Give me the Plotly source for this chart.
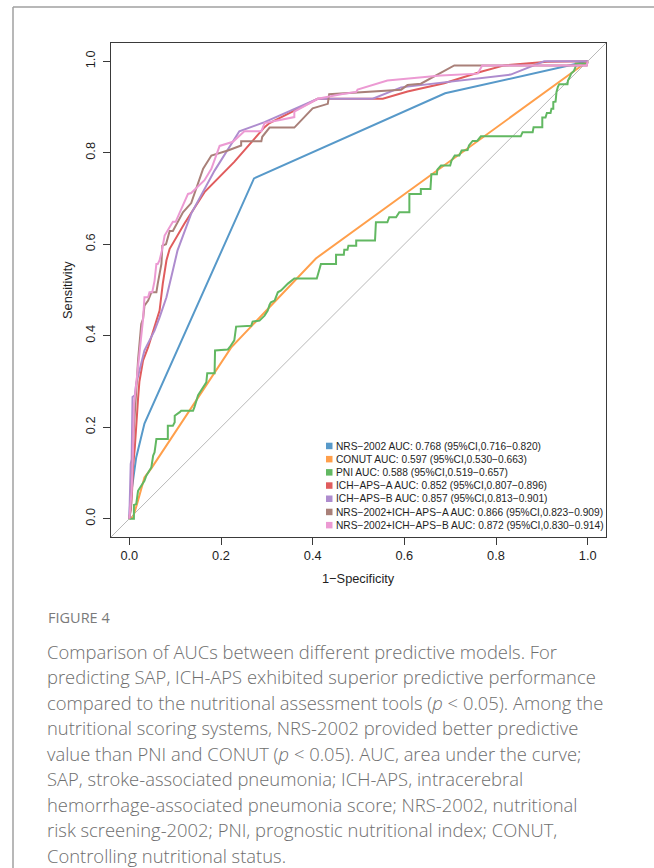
import plotly.graph_objects as go

# ---------------- data ----------------
names = ["NRS-2002", "CONUT", "PNI", "ICH-APS-A", "ICH-APS-B",
         "NRS-2002+ICH-APS-A", "NRS-2002+ICH-APS-B"]
auc = ["0.768", "0.597", "0.588", "0.852", "0.857", "0.866", "0.872"]
ci_lo = ["0.716", "0.530", "0.519", "0.807", "0.813", "0.823", "0.830"]
ci_hi = ["0.820", "0.663", "0.657", "0.896", "0.901", "0.909", "0.914"]
colors = ["#5799c9", "#ff9f4b", "#62b862", "#e05c5d", "#ae8cce",
          "#a98079", "#ec9ad3"]

nrs_fpr = [0, 0.002, 0.015, 0.033, 0.272, 0.689, 1.0]
nrs_tpr = [0, 0.040, 0.134, 0.208, 0.744, 0.930, 1.0]

conut_fpr = [0, 0.008, 0.017, 0.033, 0.048, 0.222, 0.407, 1.0]
conut_tpr = [0, 0.003, 0.033, 0.090, 0.110, 0.374, 0.569, 1.0]

pni_fpr = [0, 0.010, 0.010, 0.015, 0.019, 0.033, 0.037, 0.044, 0.048, 0.052,
           0.055, 0.059, 0.084, 0.084, 0.095, 0.099, 0.099, 0.110, 0.113, 0.139,
           0.142, 0.150, 0.157, 0.168, 0.170, 0.186, 0.187, 0.215, 0.219, 0.229,
           0.233, 0.266, 0.269, 0.284, 0.295, 0.302, 0.306, 0.309, 0.317, 0.324,
           0.331, 0.346, 0.360, 0.409, 0.418, 0.451, 0.451, 0.468, 0.469, 0.476,
           0.478, 0.495, 0.495, 0.536, 0.538, 0.563, 0.567, 0.582, 0.589, 0.611,
           0.611, 0.636, 0.636, 0.657, 0.659, 0.671, 0.672, 0.680, 0.700, 0.703,
           0.710, 0.720, 0.725, 0.738, 0.741, 0.749, 0.759, 0.767, 0.854, 0.858,
           0.880, 0.882, 0.901, 0.901, 0.908, 0.911, 0.919, 0.921, 0.925, 0.925,
           0.930, 0.932, 0.935, 0.938, 0.956, 0.957, 0.961, 0.964, 0.970, 0.974,
           0.974, 0.998, 1.0]
pni_tpr = [0, 0, 0.030, 0.032, 0.061, 0.083, 0.094, 0.105, 0.112, 0.138,
           0.145, 0.174, 0.174, 0.203, 0.203, 0.211, 0.225, 0.233, 0.236, 0.236,
           0.244, 0.270, 0.282, 0.298, 0.318, 0.318, 0.368, 0.370, 0.375, 0.390,
           0.420, 0.422, 0.431, 0.433, 0.444, 0.455, 0.468, 0.473, 0.477, 0.495,
           0.499, 0.514, 0.525, 0.525, 0.557, 0.557, 0.577, 0.577, 0.588, 0.588,
           0.597, 0.597, 0.608, 0.608, 0.648, 0.648, 0.659, 0.659, 0.670, 0.670,
           0.710, 0.710, 0.721, 0.721, 0.753, 0.753, 0.763, 0.772, 0.772, 0.783,
           0.794, 0.794, 0.805, 0.806, 0.816, 0.826, 0.826, 0.836, 0.836, 0.845,
           0.845, 0.856, 0.856, 0.877, 0.877, 0.887, 0.887, 0.896, 0.896, 0.911,
           0.912, 0.933, 0.944, 0.950, 0.950, 0.958, 0.966, 0.973, 0.979, 0.989,
           0.995, 0.995, 1.0]

icha_fpr = [0, 0.003, 0.006, 0.008, 0.012, 0.015, 0.019, 0.022, 0.030, 0.041,
            0.059, 0.066, 0.073, 0.081, 0.088, 0.120, 0.164, 0.229, 0.295, 0.306,
            0.411, 0.553, 0.607, 0.687, 0.767, 0.818, 0.912, 1.0]
icha_tpr = [0, 0.020, 0.061, 0.112, 0.156, 0.214, 0.262, 0.300, 0.346, 0.375,
            0.430, 0.455, 0.514, 0.565, 0.590, 0.645, 0.714, 0.780, 0.856, 0.865,
            0.918, 0.918, 0.934, 0.952, 0.977, 0.991, 0.999, 1.0]

ichb_fpr = [0, 0.003, 0.005, 0.007, 0.012, 0.015, 0.033, 0.055, 0.066, 0.081,
            0.095, 0.105, 0.135, 0.186, 0.240, 0.295, 0.411, 0.531, 0.593, 0.832,
            0.905, 1.0]
ichb_tpr = [0, 0.120, 0.130, 0.266, 0.270, 0.295, 0.368, 0.411, 0.440, 0.484,
            0.543, 0.586, 0.667, 0.761, 0.847, 0.867, 0.918, 0.918, 0.943, 0.971,
            1.0, 1.0]

nrsa_fpr = [0, 0.004, 0.006, 0.010, 0.015, 0.019, 0.026, 0.030, 0.033, 0.041,
            0.048, 0.059, 0.062, 0.070, 0.072, 0.080, 0.088, 0.095, 0.117, 0.135,
            0.161, 0.179, 0.215, 0.244, 0.244, 0.288, 0.290, 0.306, 0.360, 0.400,
            0.433, 0.436, 0.593, 0.607, 0.636, 0.709, 0.998, 1.0]
nrsa_tpr = [0, 0.030, 0.100, 0.200, 0.280, 0.346, 0.426, 0.437, 0.466, 0.477,
            0.495, 0.495, 0.514, 0.557, 0.597, 0.600, 0.629, 0.629, 0.670, 0.690,
            0.765, 0.794, 0.805, 0.816, 0.825, 0.825, 0.835, 0.855, 0.855, 0.897,
            0.907, 0.928, 0.938, 0.948, 0.951, 0.991, 0.991, 1.0]

nrsb_fpr = [0, 0.002, 0.005, 0.008, 0.010, 0.012, 0.015, 0.022, 0.026, 0.030,
            0.033, 0.041, 0.044, 0.050, 0.055, 0.059, 0.062, 0.066, 0.071, 0.077,
            0.095, 0.101, 0.128, 0.135, 0.164, 0.179, 0.197, 0.226, 0.251, 0.288,
            0.295, 0.360, 0.360, 0.411, 0.462, 0.495, 0.498, 0.563, 0.680, 0.760,
            0.770, 0.998, 1.0]
nrsb_tpr = [0, 0.020, 0.060, 0.150, 0.250, 0.266, 0.295, 0.368, 0.411, 0.437,
            0.484, 0.484, 0.495, 0.495, 0.520, 0.557, 0.557, 0.565, 0.586, 0.619,
            0.649, 0.649, 0.710, 0.712, 0.740, 0.765, 0.815, 0.824, 0.847, 0.847,
            0.865, 0.878, 0.890, 0.918, 0.928, 0.933, 0.938, 0.958, 0.969, 0.973,
            0.991, 0.991, 1.0]

curves = [(nrs_fpr, nrs_tpr), (conut_fpr, conut_tpr), (pni_fpr, pni_tpr),
          (icha_fpr, icha_tpr), (ichb_fpr, ichb_tpr), (nrsa_fpr, nrsa_tpr),
          (nrsb_fpr, nrsb_tpr)]

x_ticks = [0.0, 0.2, 0.4, 0.6, 0.8, 1.0]
y_ticks = [0.0, 0.2, 0.4, 0.6, 0.8, 1.0]
axis_range = [-0.04, 1.04]

caption_head = "FIGURE 4"
caption_lines = [
    "Comparison of AUCs between different predictive models. For",
    "predicting SAP, ICH-APS exhibited superior predictive performance",
    "compared to the nutritional assessment tools (<i>p</i> &lt; 0.05). Among the",
    "nutritional scoring systems, NRS-2002 provided better predictive",
    "value than PNI and CONUT (<i>p</i> &lt; 0.05). AUC, area under the curve;",
    "SAP, stroke-associated pneumonia; ICH-APS, intracerebral",
    "hemorrhage-associated pneumonia score; NRS-2002, nutritional",
    "risk screening-2002; PNI, prognostic nutritional index; CONUT,",
    "Controlling nutritional status.",
]

# ---------------- layout geometry (pixels) ----------------
W, H = 654, 868
L, R, T, B = 111, 606, 43, 537
PW, PH = R - L, B - T


def px(x):
    return (x - L) / PW


def py(y):
    return (B - y) / PH


MINUS = "\u2212"
fig = go.Figure()

for (fx, ty), c, n in zip(curves, colors, names):
    fig.add_trace(go.Scatter(x=fx, y=ty, mode="lines", name=n,
                             line=dict(color=c, width=2), showlegend=False,
                             hoverinfo="skip"))

font_main = "Liberation Sans, Arial, Helvetica, sans-serif"
annotations = []
shapes = []

# chance diagonal
shapes.append(dict(type="line", xref="x", yref="y", layer="below",
                   x0=axis_range[0], y0=axis_range[0], x1=axis_range[1], y1=axis_range[1],
                   line=dict(color="#b8b8b8", width=1)))

# legend (R style, no box)
leg_y0, leg_dy = 446, 13.2
for i, (n, a, lo, hi, c) in enumerate(zip(names, auc, ci_lo, ci_hi, colors)):
    yc = leg_y0 + i * leg_dy
    txt = f"{n.replace('-', MINUS)} AUC: {a} (95%CI,{lo}{MINUS}{hi})"
    annotations.append(dict(xref="paper", yref="paper", x=px(333.5), y=py(yc),
                            xanchor="left", yanchor="middle", showarrow=False,
                            text=txt, font=dict(family=font_main, size=10.2, color="#1e1e1e")))
    shapes.append(dict(type="rect", xref="paper", yref="paper",
                       x0=px(326), x1=px(332.5), y0=py(yc + 3.2), y1=py(yc - 3.3),
                       fillcolor=c, line=dict(width=0)))

# axis titles
annotations.append(dict(xref="paper", yref="paper", x=px(358.5), y=py(578),
                        xanchor="center", yanchor="middle", showarrow=False,
                        text=f"1{MINUS}Specificity",
                        font=dict(family=font_main, size=12.8, color="#1e1e1e")))
annotations.append(dict(xref="paper", yref="paper", x=px(67), y=py(290),
                        xanchor="center", yanchor="middle", showarrow=False,
                        text="Sensitivity", textangle=-90,
                        font=dict(family=font_main, size=12.8, color="#1e1e1e")))

# caption
cap_font = "Open Sans, Lato, sans-serif"
annotations.append(dict(xref="paper", yref="paper", x=px(46), y=py(617),
                        xanchor="left", yanchor="middle", showarrow=False,
                        text=caption_head,
                        font=dict(family=cap_font, size=14.5, color="#7a7a7a", weight=500)))
cap_y0, cap_dy = 651, 25.5
for i, line in enumerate(caption_lines):
    annotations.append(dict(xref="paper", yref="paper", x=px(45), y=py(cap_y0 + i * cap_dy),
                            xanchor="left", yanchor="middle", showarrow=False,
                            text=line,
                            font=dict(family=cap_font, size=18.4, color="#6e6e6e",
                                      weight=300)))

# outer card border (top and left)
shapes.append(dict(type="line", xref="paper", yref="paper",
                   x0=px(13), x1=px(660), y0=py(7), y1=py(7),
                   line=dict(color="#a0a0a0", width=1.5)))
shapes.append(dict(type="line", xref="paper", yref="paper",
                   x0=px(13), x1=px(13), y0=py(7), y1=py(875),
                   line=dict(color="#a0a0a0", width=1.5)))

axis_common = dict(range=axis_range, showgrid=False, zeroline=False,
                   showline=True, mirror=True, linecolor="#3a3a3a", linewidth=1,
                   ticks="outside", ticklen=7, tickcolor="#3a3a3a", tickwidth=1,
                   tickfont=dict(family=font_main, size=12.8, color="#1e1e1e"))

fig.update_layout(
    width=W, height=H,
    margin=dict(l=L, r=W - R, t=T, b=H - B),
    paper_bgcolor="white", plot_bgcolor="white",
    xaxis=dict(tickvals=x_ticks, ticktext=[f"{v:.1f}" for v in x_ticks], **axis_common),
    yaxis=dict(tickvals=y_ticks, ticktext=[f"{v:.1f}" for v in y_ticks], tickangle=-90,
               ticklabelstandoff=3, **axis_common),
    annotations=annotations, shapes=shapes, showlegend=False,
)

fig.write_html("out.html")
